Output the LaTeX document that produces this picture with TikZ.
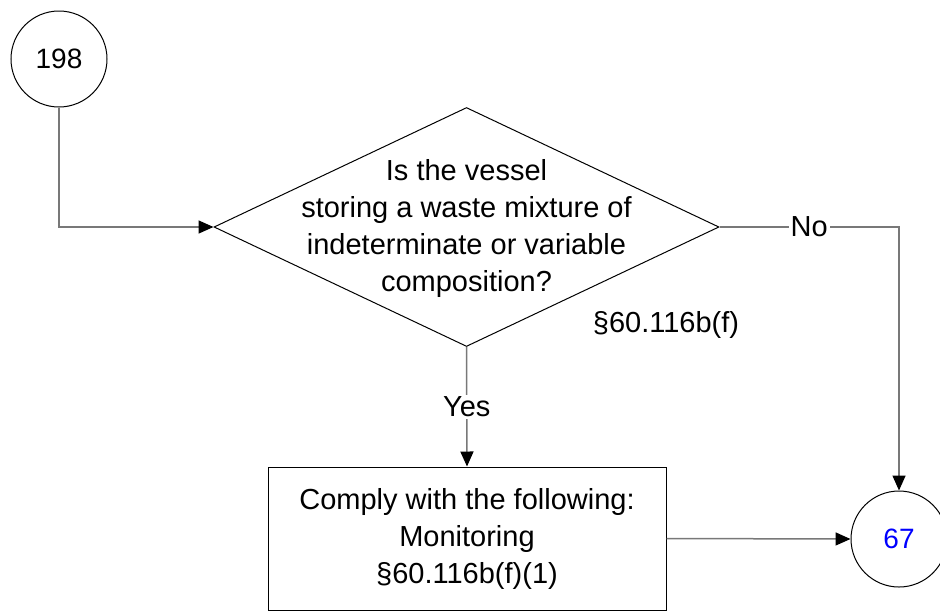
\documentclass[tikz,border=0pt]{standalone}
\usepackage{fontspec}
\setmainfont{Liberation Sans}
\usetikzlibrary{shapes.geometric,arrows.meta}
\definecolor{conn}{RGB}{120,120,120}
\definecolor{numblue}{RGB}{0,0,255}
\begin{document}
\begin{tikzpicture}[x=0.5pt,y=-0.5pt,
  every node/.style={font=\fontsize{14.5}{18.5}\selectfont},
  term/.style={circle,draw=black,line width=0.5pt,minimum size=48pt,inner sep=0pt,font=\fontsize{14}{16}\selectfont},
  decis/.style={diamond,draw=black,line width=0.5pt,minimum width=252.5pt,minimum height=119.5pt,inner sep=0pt},
  procbox/.style={rectangle,draw=black,line width=0.5pt,minimum width=199pt,minimum height=71.5pt,inner sep=0pt},
  txt/.style={align=center,inner sep=0pt},
  lbl/.style={fill=white,inner sep=1pt},
  conline/.style={draw=conn,line width=0.75pt},
  arr/.style={conline,-{Triangle[length=7.5pt,width=6.5pt,color=black]}}
]
\useasboundingbox (0,0) rectangle (940,611);
\node[term] (c198) at (59,59) {198};
\node[decis] (dec) at (466.5,227) {};
\node[txt] (dectext) at (466.5,228) {Is the vessel\\storing a waste mixture of\\indeterminate or variable\\composition?};
\node[txt] (ref) at (666,325) {§60.116b(f)};
\node[procbox] (box) at (467,538.5) {};
\node[txt] (boxtext) at (467,539) {Comply with the following:\\Monitoring\\§60.116b(f)(1)};
\node[term,text=numblue] (c67) at (899,539) {67};
\coordinate (k1) at (59,227);
\coordinate (k2) at (899,227);
\draw[arr] (c198.south) -- (k1) -- (dec.west);
\draw[arr] (dec.south) -- node[lbl,pos=0.5] (yes) {Yes} (box.north);
\draw[arr] (dec.east) -- node[lbl,pos=0.5] (no) {No} (k2) -- (c67.north);
\draw[arr] (box.east) -- (c67.west);
\end{tikzpicture}
\end{document}
